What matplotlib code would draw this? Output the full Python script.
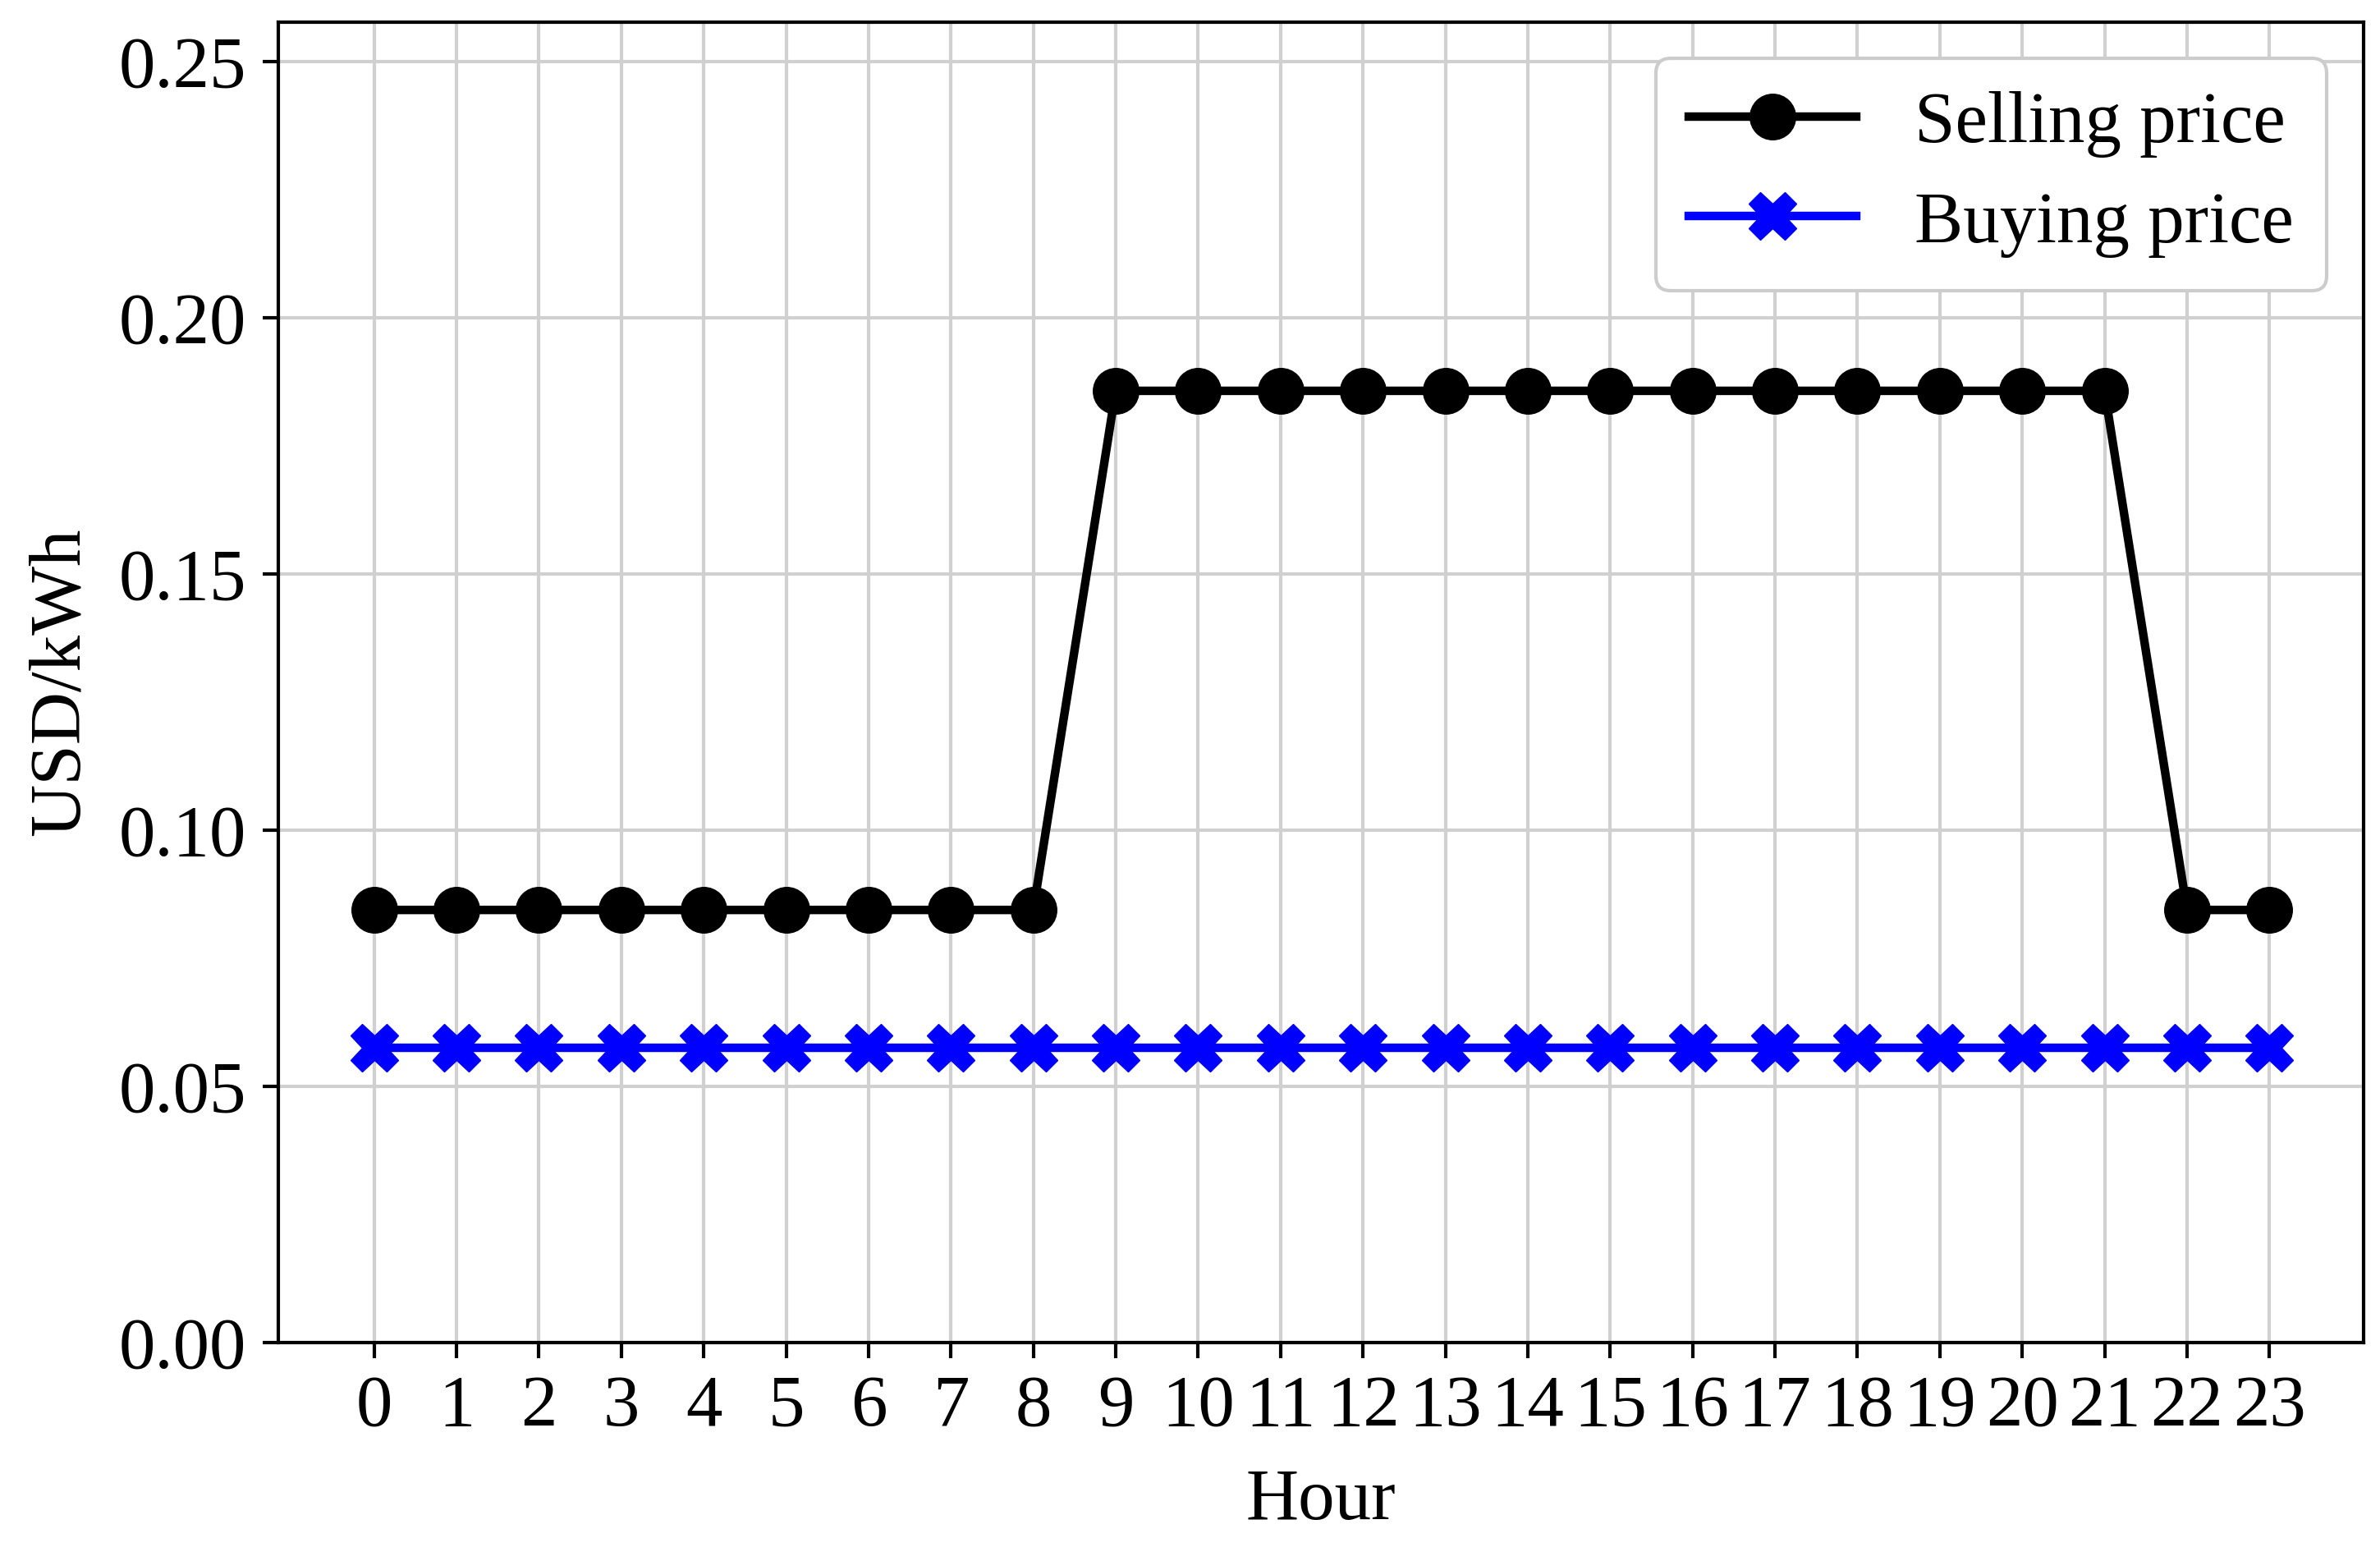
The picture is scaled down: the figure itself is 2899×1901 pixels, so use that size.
import numpy as np
import matplotlib
matplotlib.use("Agg")
import matplotlib.pyplot as plt

plt.rcParams['font.family'] = ['Liberation Serif', 'DejaVu Serif']

hours = list(range(24))
selling = [0.0844] * 9 + [0.1857] * 13 + [0.0844] * 2
buying = [0.0575] * 24

fig = plt.figure(figsize=(28.99, 19.01), dpi=100)
ax = fig.add_axes([0.117, 0.14, 0.876, 0.846])

ax.plot(hours, selling, color='black', marker='o', markersize=40, linewidth=7.5,
        label='Selling price', zorder=3)
ax.plot(hours, buying, color='blue', marker='X', markersize=42, linewidth=7.5,
        label='Buying price', zorder=3)

ax.set_xlim(-1.16, 24.14)
ax.set_ylim(0, 0.2577)
ax.set_xticks(hours)
ax.set_yticks([0, 0.05, 0.10, 0.15, 0.20, 0.25])
ax.set_yticklabels(['0.00', '0.05', '0.10', '0.15', '0.20', '0.25'])
ax.grid(True, color='#d0d0d0', linewidth=3)
ax.set_axisbelow(True)
ax.tick_params(labelsize=64, width=3, length=14, pad=14)
for s in ax.spines.values():
    s.set_linewidth(3)

ax.set_xlabel('Hour', fontsize=64, labelpad=24)
ax.set_ylabel('USD/kWh', fontsize=64, labelpad=22)

leg = ax.legend(loc='upper right', fontsize=64, handlelength=2.3, borderpad=0.45,
                labelspacing=0.45, framealpha=1, fancybox=True)
leg.get_frame().set_linewidth(3)

fig.savefig('out.png', dpi=100)
